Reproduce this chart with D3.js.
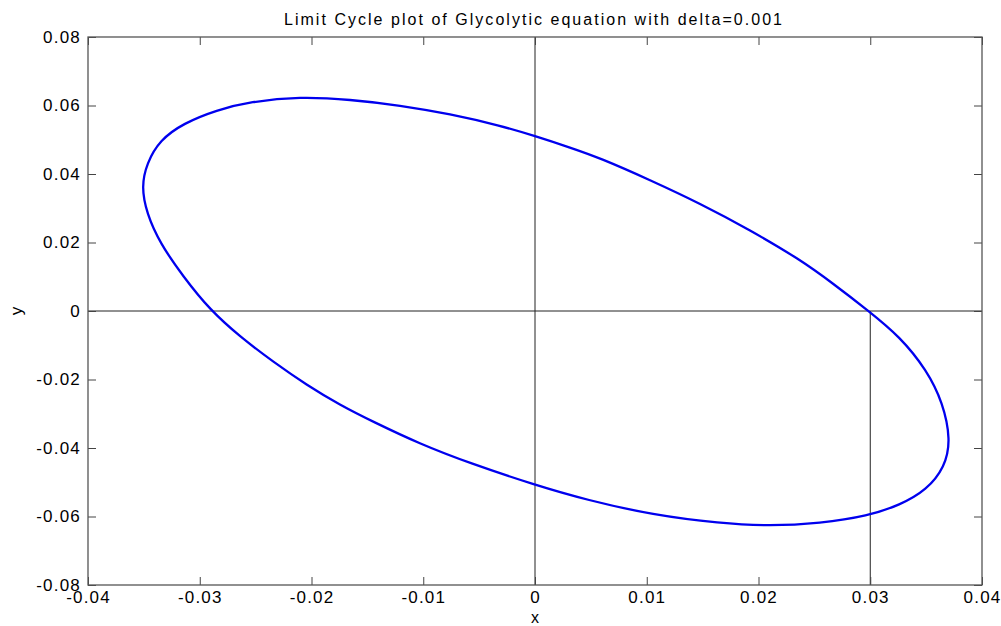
<!DOCTYPE html>
<html>
<head>
<meta charset="utf-8">
<script src="https://cdn.jsdelivr.net/npm/d3@7"></script>
<style>
  body { margin: 0; background: #fff; }
  text { font-family: "Liberation Sans", Arial, sans-serif; fill: #000; }
</style>
</head>
<body>
<svg id="chart" width="1001" height="626"></svg>
<script>
// Limit cycle (x, y pairs, closed loop)
const cycleX = [-0.03522, -0.03475, -0.03356, -0.03147, -0.02848, -0.02550, -0.02103, -0.01655,
  -0.01208, -0.00761, -0.00313, 0.0, 0.00313, 0.00582, 0.01029, 0.01477, 0.01924, 0.02371,
  0.02667, 0.02980, 0.03266, 0.03505, 0.03651, 0.03720, 0.03669, 0.03505, 0.03266, 0.02980,
  0.02550, 0.02103, 0.01655, 0.01056, 0.00463, 0.0, -0.00582, -0.01029, -0.01450, -0.01745,
  -0.02043, -0.02345, -0.02640, -0.02908, -0.03147, -0.03356, -0.03475];
const cycleY = [0.03629, 0.04312, 0.04993, 0.05480, 0.05869, 0.06111, 0.06260, 0.06175,
  0.06006, 0.05752, 0.05416, 0.05109, 0.04774, 0.04467, 0.03825, 0.03139, 0.02365, 0.01504,
  0.00803, 0.00015, -0.00750, -0.01723, -0.02686, -0.03766, -0.04546, -0.05226, -0.05664, -0.05985,
  -0.06199, -0.06280, -0.06199, -0.05956, -0.05518, -0.05080, -0.04447, -0.03883, -0.03232, -0.02745,
  -0.02161, -0.01480, -0.00750, 0.00029, 0.01001, 0.01977, 0.02853];

const xTicks = [-0.04, -0.03, -0.02, -0.01, 0, 0.01, 0.02, 0.03, 0.04];
const yTicks = [-0.08, -0.06, -0.04, -0.02, 0, 0.02, 0.04, 0.06, 0.08];

// reference lines drawn in the plot (data coordinates)
const refLines = [
  { x1: -0.04, y1: 0, x2: 0.04, y2: 0 },
  { x1: 0, y1: -0.08, x2: 0, y2: 0.08 },
  { x1: 0.03, y1: 0, x2: 0.03, y2: -0.08 }
];

const titleText = "Limit Cycle plot of Glycolytic equation with delta=0.001";

const svg = d3.select("#chart");
const mLeft = 88, mRight = 982, mTop = 37, mBottom = 585;

const x = d3.scaleLinear().domain([-0.04, 0.04]).range([mLeft, mRight]);
const y = d3.scaleLinear().domain([-0.08, 0.08]).range([mBottom, mTop]);

// plain hyphen for negatives, like the original
const fmt = d => d === 0 ? "0" : d.toFixed(2);

// reference lines
svg.append("g")
  .selectAll("line")
  .data(refLines)
  .join("line")
  .attr("x1", d => x(d.x1))
  .attr("y1", d => y(d.y1))
  .attr("x2", d => x(d.x2))
  .attr("y2", d => y(d.y2))
  .attr("stroke", "#222")
  .attr("stroke-width", 1);

// axes: ticks inward on all four sides
const tickLen = 8;
svg.append("g")
  .attr("transform", `translate(0,${mBottom})`)
  .call(d3.axisBottom(x).tickValues(xTicks).tickFormat(fmt).tickSizeInner(-tickLen).tickSizeOuter(0).tickPadding(9))
  .call(g => g.select(".domain").remove())
  .call(g => g.selectAll("text").attr("font-size", 17).attr("letter-spacing", "1.2px").attr("dy", "0.5em"));

svg.append("g")
  .attr("transform", `translate(0,${mTop})`)
  .call(d3.axisTop(x).tickValues(xTicks).tickFormat("").tickSizeInner(-tickLen).tickSizeOuter(0))
  .call(g => g.select(".domain").remove());

svg.append("g")
  .attr("transform", `translate(${mLeft},0)`)
  .call(d3.axisLeft(y).tickValues(yTicks).tickFormat(fmt).tickSizeInner(-tickLen).tickSizeOuter(0).tickPadding(7))
  .call(g => g.select(".domain").remove())
  .call(g => g.selectAll("text").attr("font-size", 17).attr("letter-spacing", "1.2px"));

svg.append("g")
  .attr("transform", `translate(${mRight},0)`)
  .call(d3.axisRight(y).tickValues(yTicks).tickFormat("").tickSizeInner(-tickLen).tickSizeOuter(0))
  .call(g => g.select(".domain").remove());

svg.selectAll(".tick line").attr("stroke", "#444");

// frame
svg.append("rect")
  .attr("x", mLeft).attr("y", mTop)
  .attr("width", mRight - mLeft).attr("height", mBottom - mTop)
  .attr("fill", "none")
  .attr("stroke", "#555")
  .attr("stroke-width", 1.3);

// limit cycle
const pts = cycleX.map((v, i) => [v, cycleY[i]]);
const line = d3.line()
  .x(d => x(d[0]))
  .y(d => y(d[1]))
  .curve(d3.curveBasisClosed);

svg.append("path")
  .datum(pts)
  .attr("d", line)
  .attr("fill", "none")
  .attr("stroke", "#0000ee")
  .attr("stroke-width", 2.3);

// title and axis labels
svg.append("text")
  .attr("x", (mLeft + mRight) / 2 - 2)
  .attr("y", 25)
  .attr("text-anchor", "middle")
  .attr("font-size", 16)
  .attr("textLength", 498)
  .text(titleText);

svg.append("text")
  .attr("x", (mLeft + mRight) / 2)
  .attr("y", 623)
  .attr("text-anchor", "middle")
  .attr("font-size", 16)
  .text("x");

svg.append("text")
  .attr("transform", `translate(22,${(mTop + mBottom) / 2}) rotate(-90)`)
  .attr("text-anchor", "middle")
  .attr("font-size", 17)
  .text("y");
</script>
</body>
</html>
